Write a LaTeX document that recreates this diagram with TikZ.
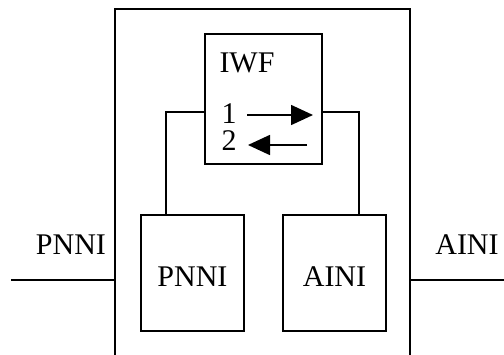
\documentclass[tikz,border=0pt]{standalone}
\usepackage{fontspec}
\setmainfont{Liberation Serif}
\usetikzlibrary{arrows.meta, positioning}

\begin{document}
\begin{tikzpicture}[
    x=0.5pt, y=-0.5pt,
    every node/.style={font=\fontsize{15}{18}\selectfont},
    box/.style={rectangle, draw, line width=0.7pt, inner sep=0pt},
    wire/.style={line width=0.7pt},
    flow/.style={line width=0.8pt, -{Triangle[length=11pt, width=10pt]}}
]
\useasboundingbox (0,0) rectangle (504,354);
\clip (0,0) rectangle (504,354);

% Switch boundary
\node[box, minimum width=147.5pt, minimum height=185.5pt] (sw) at (262.5, 194.5) {};

% Function blocks
\node[box, minimum width=58.5pt, minimum height=65pt] (iwf) at (263.5, 99) {};
\node (iwflabel) at (247, 63) {IWF};
\node[box, minimum width=51.5pt, minimum height=58pt] (pnni) at (192.5, 273) {};
\node (pnnilabel) at (192.5, 277) {PNNI};
\node[box, minimum width=51.5pt, minimum height=58pt] (aini) at (334.5, 273) {};
\node (ainilabel) at (334.5, 277) {AINI};

% Directions inside IWF
\node[anchor=base] (one) at (229, 123) {1};
\node[anchor=base] (two) at (229, 150) {2};
\coordinate (a1s) at (247, 115);
\coordinate (a1e) at (313, 115);
\coordinate (a2s) at (307, 145);
\coordinate (a2e) at (248, 145);
\draw[flow] (a1s) -- (a1e);
\draw[flow] (a2s) -- (a2e);

% Internal connections
\coordinate (ljoin) at (166, 112);
\coordinate (rjoin) at (359, 112);
\draw[wire] (ljoin -| iwf.west) -- (ljoin) -- (ljoin |- pnni.north);
\draw[wire] (rjoin -| iwf.east) -- (rjoin) -- (rjoin |- aini.north);

% External interfaces
\coordinate (pin) at (11, 280);
\coordinate (aout) at (504, 280);
\draw[wire] (pin) -- (pin -| sw.west);
\draw[wire] (aout -| sw.east) -- (aout);
\node (pnniext) at (71, 245) {PNNI};
\node (ainiext) at (467, 245) {AINI};
\end{tikzpicture}
\end{document}
